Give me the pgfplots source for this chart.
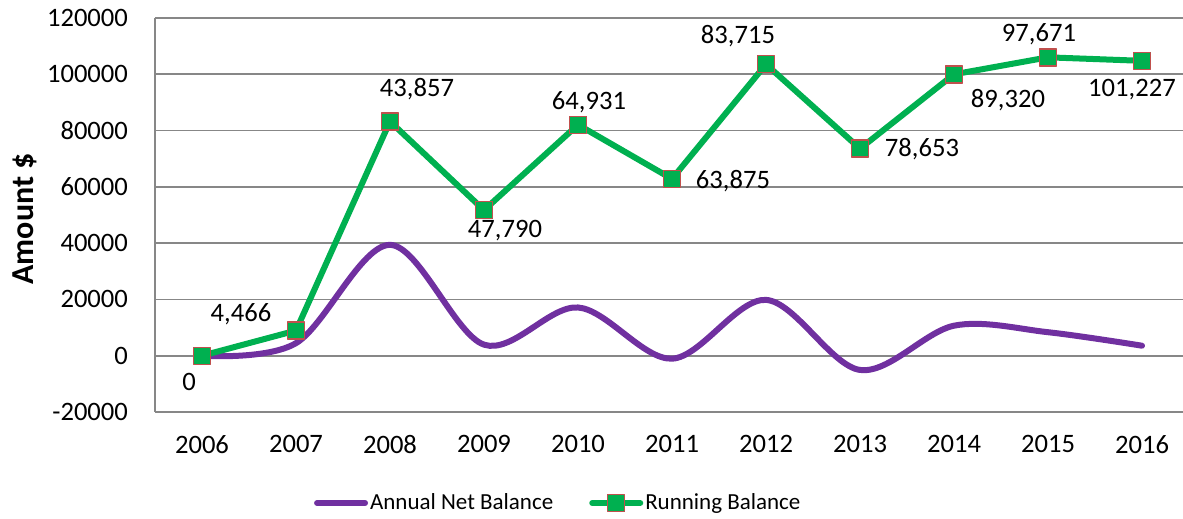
\documentclass[border=0pt]{standalone}
\usepackage{pgfplots}
\pgfplotsset{compat=1.18}
\usepackage{pgfplotstable}
\usepackage{fontspec}
\setmainfont{Carlito}
\definecolor{rbgreen}{HTML}{00B050}
\definecolor{rbred}{HTML}{C0504D}
\definecolor{anpurple}{HTML}{7030A0}
\definecolor{gridgray}{HTML}{878787}

\pgfplotstableread{
x y
0 0
1 4466
2 39391
3 3933
4 17141
5 -1056
6 19840
7 -5062
8 10667
9 8351
10 3556
}\annual

\pgfplotstableread{
x y lab dx dy
0 0 0 -6.5 -13
1 8932 4,466 -27.5 8
2 83248 43,857 13.5 16
3 51723 47,790 10.5 -10
4 82072 64,931 5.5 11.5
5 62819 63,875 30.5 -1
6 103555 83,715 -14 14
7 73591 78,653 31 -0.5
8 99987 89,320 27 -13
9 106022 97,671 -4.5 11.5
10 104783 101,227 -5 -14.5
}\running

\begin{document}
\begin{tikzpicture}
\path[use as bounding box] (0,0) rectangle (591.5pt,259.5pt);
\begin{axis}[
  at={(77.5pt,53.5pt)}, anchor=south west,
  scale only axis, width=517pt, height=197pt,
  xmin=-0.5, xmax=10.5,
  ymin=-20000, ymax=120000,
  ytick={-20000,0,20000,40000,60000,80000,100000,120000},
  yticklabels={-20000,0,20000,40000,60000,80000,100000,120000},
  xtick={0,...,10},
  xticklabels={2006,2007,2008,2009,2010,2011,2012,2013,2014,2015,2016},
  scaled y ticks=false,
  axis x line*=bottom, axis y line*=left,
  axis line style={gridgray, line width=0.9pt, -},
  ymajorgrids, grid style={gridgray, line width=0.9pt},
  major tick length=0pt,
  tick label style={font=\fontsize{13.3}{16}\selectfont, text=black},
  yticklabel style={xshift=-10pt},
  xticklabel style={yshift=-8pt},
  ylabel={\textbf{Amount \$}},
  every axis y label/.style={at={(-65pt,0.49)}, rotate=90, anchor=center,
    font=\fontsize{16}{19}\selectfont},
  clip=false,
  legend columns=2,
  legend style={at={(0.39,-0.231)}, anchor=center, draw=none, fill=none,
    font=\fontsize{11.5}{14}\selectfont, column sep=0pt,
    nodes={inner xsep=1pt},
    /tikz/every even column/.append style={column sep=17pt}},
  legend image code/.code={
    \draw[mark repeat=2,mark phase=2,#1] plot coordinates {(0pt,0pt)(12pt,0pt)(24pt,0pt)};},
]
\addplot[anpurple, line width=3pt, smooth, tension=0.55, line cap=round] table[x=x,y=y] {\annual};
\addlegendentry{Annual Net Balance}
\addplot[rbgreen, line width=3pt, line cap=round, line join=round,
  mark=square*, mark size=4.25pt,
  mark options={fill=rbgreen, draw=rbred, line width=0.7pt, solid},
  nodes near coords, point meta=explicit symbolic,
  visualization depends on={\thisrow{dx} \as \dx},
  visualization depends on={\thisrow{dy} \as \dy},
  nodes near coords style={anchor=center, xshift=\dx pt, yshift=\dy pt,
    font=\fontsize{13.3}{16}\selectfont, text=black},
] table[x=x,y=y,meta=lab] {\running};
\addlegendentry{Running Balance}
\end{axis}
\end{tikzpicture}
\end{document}
